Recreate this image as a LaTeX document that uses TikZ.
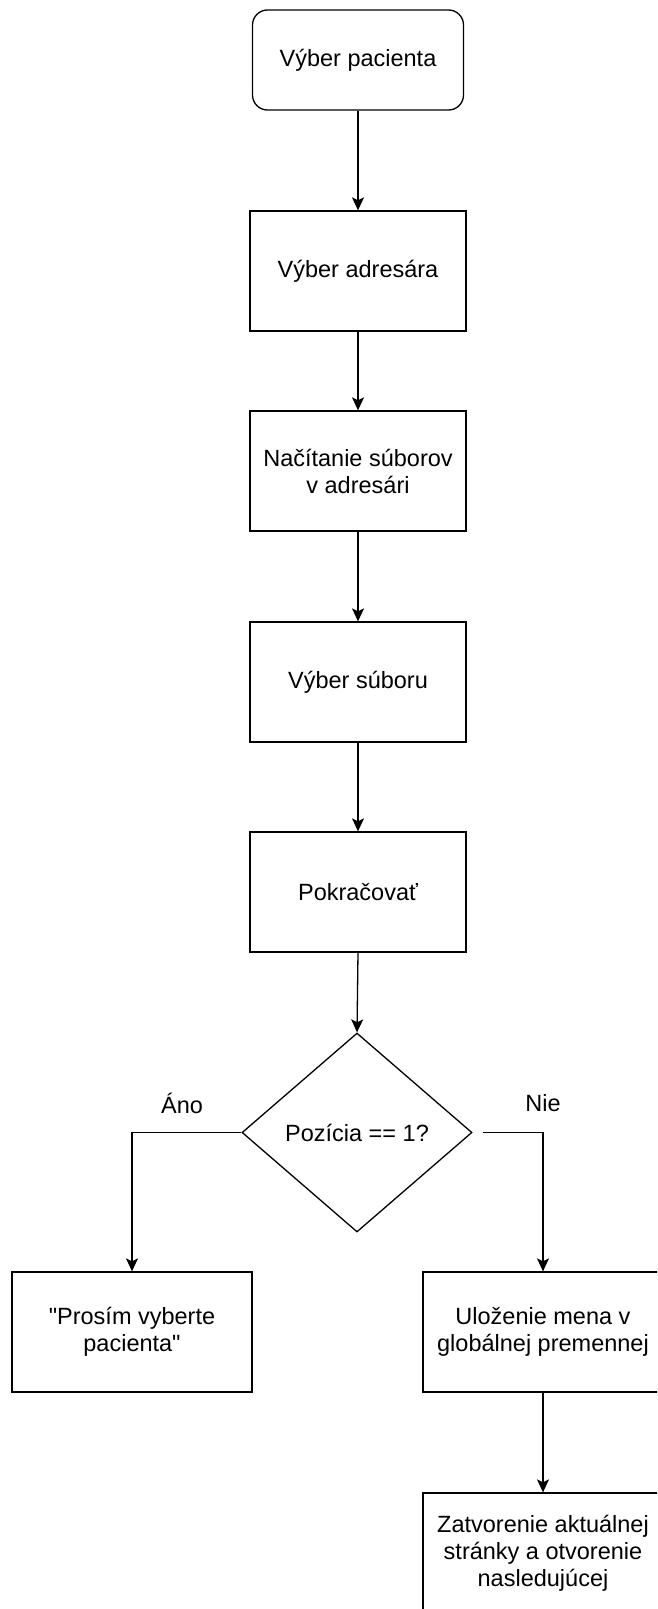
\documentclass[tikz,border=0pt]{standalone}
\usepackage{fontspec}
\newfontfamily\diafont{Liberation Sans}
\usetikzlibrary{arrows.meta,shapes.geometric}
\tikzset{
  base/.style={draw=black, line width=1.3pt, fill=white, inner sep=0pt, align=center,
    font=\diafont\fontsize{23.5}{27}\selectfont},
  startbox/.style={base, rounded corners=15pt, minimum width=211pt, minimum height=100pt},
  procbox/.style={base, minimum width=216pt, minimum height=120pt},
  widebox/.style={base, minimum width=240pt, minimum height=120pt},
  decbox/.style={base, shape=diamond, minimum width=230pt, minimum height=199pt},
  lbl/.style={inner sep=0pt, font=\diafont\fontsize{23.5}{27}\selectfont},
  conn/.style={draw=black, line width=1.3pt, -{Stealth[length=13pt,width=12pt,inset=3pt]}}
}
\begin{document}
\begin{tikzpicture}[x=1pt,y=-1pt]
\useasboundingbox (0,0) rectangle (657,1609);
\fill[white] (0,0) rectangle (657,1609);
\clip (0,0) rectangle (657,1609);
\node[startbox] (b1) at (358,60) {Výber pacienta};
\node[procbox] (b2) at (358,271) {Výber adresára};
\node[procbox] (b3) at (358,471) {Načítanie súborov\\v adresári};
\node[procbox] (b4) at (358,682) {Výber súboru};
\node[procbox] (b5) at (358,892) {Pokračovať};
\node[decbox] (dia) at (357,1132.5) {Pozícia == 1?};
\node[widebox] (pl) at (132,1332) {"Prosím vyberte\\pacienta"};
\node[widebox] (ul) at (543,1332) {Uloženie mena v\\globálnej premennej};
\node[widebox] (za) at (543,1553) {Zatvorenie aktuálnej\\stránky a otvorenie\\nasledujúcej};
\node[lbl] (ano) at (182,1103) {Áno};
\node[lbl] (nie) at (543,1103) {Nie};
\coordinate (nstart) at ([xshift=10pt]dia.east);
\draw[conn] (b1.south) -- (b2.north);
\draw[conn] (b2.south) -- (b3.north);
\draw[conn] (b3.south) -- (b4.north);
\draw[conn] (b4.south) -- (b5.north);
\draw[conn] (b5.south) -- (dia.north);
\draw[conn] (dia.west) -| (pl.north);
\draw[conn] (nstart) -| (ul.north);
\draw[conn] (ul.south) -- (za.north);
\end{tikzpicture}
\end{document}
